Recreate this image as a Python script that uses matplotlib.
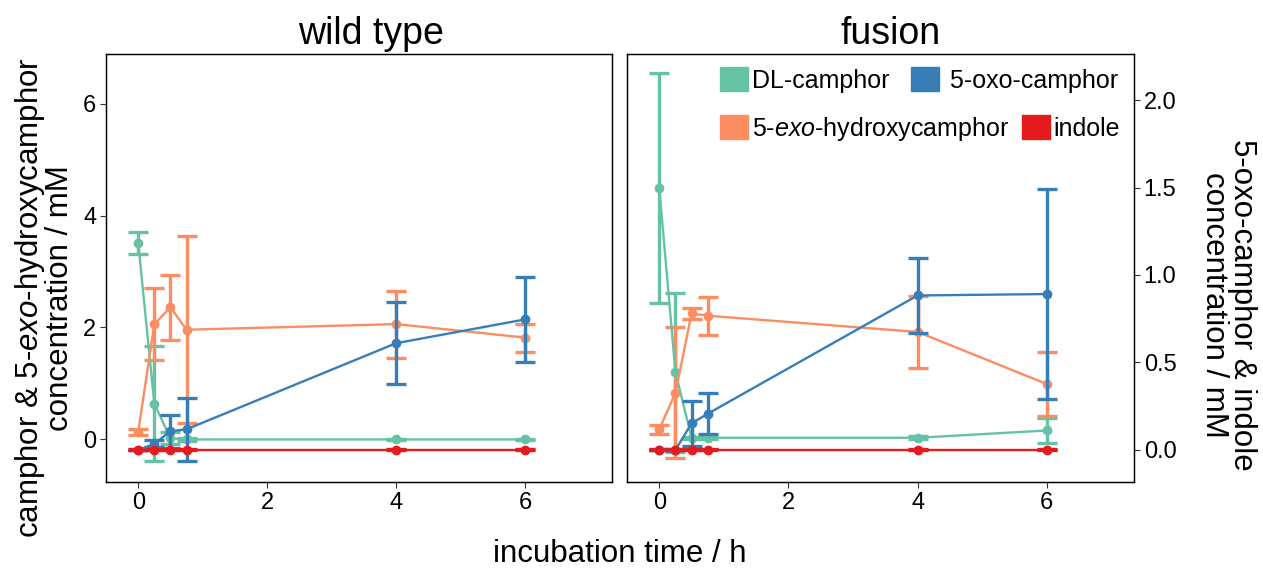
import matplotlib
matplotlib.use("Agg")
import matplotlib.pyplot as plt
from matplotlib.patches import Patch

plt.rcParams['font.family'] = ['Liberation Sans', 'DejaVu Sans']
plt.rcParams['mathtext.fontset'] = 'custom'
plt.rcParams['mathtext.rm'] = 'Liberation Sans'
plt.rcParams['mathtext.it'] = 'Liberation Sans:italic'

# ---------------- data ----------------
times = [0, 0.25, 0.5, 0.75, 4, 6]
panels = ["wild type", "fusion"]

# wild type (left axis: mM)
wt_camphor_mean = [3.51, 0.64, 0.02, 0.0, 0.0, 0.0]
wt_camphor_sd = [0.20, 1.03, 0.11, 0.02, 0.01, 0.01]
wt_hydroxy_mean = [0.14, 2.06, 2.36, 1.96, 2.06, 1.82]
wt_hydroxy_sd = [0.055, 0.64, 0.58, 1.67, 0.60, 0.25]
# wild type (right axis: mM)
wt_oxo_mean = [0.0, 0.035, 0.107, 0.118, 0.61, 0.746]
wt_oxo_sd = [0.0, 0.02, 0.094, 0.18, 0.233, 0.243]
wt_indole_mean = [0.0, 0.0, 0.0, 0.0, 0.0, 0.0]
wt_indole_sd = [0.003, 0.003, 0.003, 0.003, 0.003, 0.003]

# fusion (left axis)
fu_camphor_mean = [4.49, 1.20, 0.03, 0.03, 0.03, 0.16]
fu_camphor_sd = [2.06, 1.42, 0.02, 0.02, 0.03, 0.22]
fu_hydroxy_mean = [0.18, 0.835, 2.25, 2.21, 1.92, 0.99]
fu_hydroxy_sd = [0.085, 1.175, 0.105, 0.34, 0.64, 0.565]
# fusion (right axis)
fu_oxo_mean = [0.0, 0.0, 0.152, 0.207, 0.883, 0.891]
fu_oxo_sd = [0.0, 0.0, 0.128, 0.117, 0.214, 0.60]
fu_indole_mean = [0.0, 0.0, 0.0, 0.0, 0.0, 0.0]
fu_indole_sd = [0.003, 0.003, 0.003, 0.003, 0.003, 0.003]

series_names = ["DL-camphor", "5-oxo-camphor", r"5-$\it{exo}$-hydroxycamphor", "indole"]
colors = {"DL-camphor": "#66C2A5", "5-exo": "#FC8D62", "5-oxo": "#377EB8", "indole": "#E41A1C"}

left_ticks = [0, 2, 4, 6]
right_ticks = [0.0, 0.5, 1.0, 1.5, 2.0]
x_ticks = [0, 2, 4, 6]

# ---------------- layout ----------------
W, H = 1263, 568
fig = plt.figure(figsize=(W / 100, H / 100), dpi=100)

def fx(px):
    return px / W

def fy(py):
    return 1 - py / H

top, bottom = 53.7, 482.0
axL = fig.add_axes([fx(106), fy(bottom), fx(612 - 106), (bottom - top) / H])
axR = fig.add_axes([fx(627), fy(bottom), fx(1134 - 627), (bottom - top) / H])

ylim_left = (-0.76, 6.89)
# secondary scale: right = 0.06 + 0.32 * left
ylim_right = (0.06 + 0.32 * ylim_left[0], 0.06 + 0.32 * ylim_left[1])
xlim = (-0.5, 7.35)

ekw = dict(lw=1.7, marker='o', ms=6, elinewidth=2.4, capsize=7, capthick=2.4)

data = [
    (wt_camphor_mean, wt_camphor_sd, wt_hydroxy_mean, wt_hydroxy_sd,
     wt_oxo_mean, wt_oxo_sd, wt_indole_mean, wt_indole_sd),
    (fu_camphor_mean, fu_camphor_sd, fu_hydroxy_mean, fu_hydroxy_sd,
     fu_oxo_mean, fu_oxo_sd, fu_indole_mean, fu_indole_sd),
]

for i, (ax, d) in enumerate(zip([axL, axR], data)):
    cm, cs, hm, hs, om, osd, im, isd = d
    ax.errorbar(times, cm, yerr=cs, color=colors["DL-camphor"], **ekw)
    ax.errorbar(times, hm, yerr=hs, color=colors["5-exo"], **ekw)
    ax.set_xlim(*xlim)
    ax.set_ylim(*ylim_left)
    ax.set_xticks(x_ticks)
    ax2 = ax.twinx()
    ax2.errorbar(times, om, yerr=osd, color=colors["5-oxo"], **ekw)
    ax2.errorbar(times, im, yerr=isd, color=colors["indole"], **ekw)
    ax2.set_ylim(*ylim_right)
    for a in (ax, ax2):
        for s in a.spines.values():
            s.set_linewidth(0.9)
        a.tick_params(labelsize=17, length=4, width=0.8, color='#333333', pad=3)
    if i == 0:
        ax.set_yticks(left_ticks)
        ax2.set_yticks([])
    else:
        ax.set_yticks([])
        ax2.set_yticks(right_ticks)
        ax2.set_yticklabels([f"{v:.1f}" for v in right_ticks])
    fig.text(fx((106 + 612) / 2 + 12 if i == 0 else (627 + 1134) / 2 + 10), fy(43.5),
             panels[i], fontsize=27, ha='center', va='baseline')

# legend (two rows, as in the reference)
h1 = [Patch(color=colors["DL-camphor"]), Patch(color=colors["5-oxo"])]
h2 = [Patch(color=colors["5-exo"]), Patch(color=colors["indole"])]
lkw = dict(frameon=False, fontsize=18, handlelength=1.13, handleheight=1.13,
           handletextpad=0.15, borderpad=0, borderaxespad=0, loc='center left', ncol=2)
leg1 = axR.legend(h1, [series_names[0], " " + series_names[1]], columnspacing=0.85,
                  bbox_to_anchor=((720 - 627) / 507, (bottom - 79.7) / (bottom - top)), **lkw)
axR.add_artist(leg1)
axR.legend(h2, [series_names[2], series_names[3]], columnspacing=0.5,
           bbox_to_anchor=((720 - 627) / 507, (bottom - 128.5) / (bottom - top)), **lkw)
leg1.set_zorder(10)

fig.text(fx(620), fy(562), "incubation time / h", fontsize=22.5, ha='center', va='baseline')
fig.text(fx(44), fy(298), "camphor & 5-$\\it{exo}$-hydroxycamphor\nconcentration / mM",
         fontsize=22.5, rotation=90, ha='center', va='center', linespacing=0.95)
fig.text(fx(1228), fy(305), "5-oxo-camphor & indole\nconcentration / mM",
         fontsize=22.5, rotation=-90, ha='center', va='center', linespacing=0.95)

fig.savefig("out.png", dpi=100)
